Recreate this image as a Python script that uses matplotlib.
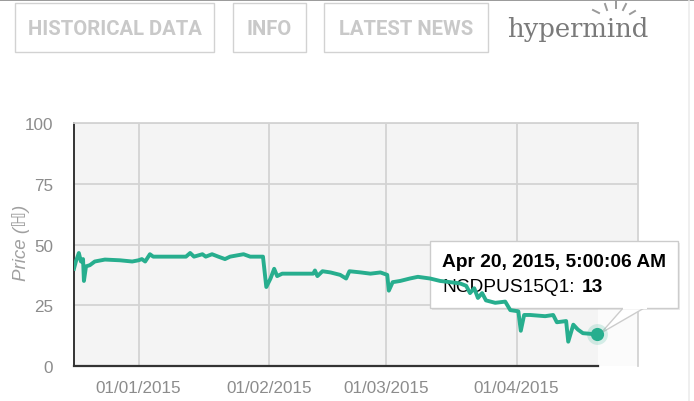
import numpy as np
import pandas as pd
import matplotlib
matplotlib.use("Agg")
import matplotlib.pyplot as plt
import matplotlib.dates as mdates
from matplotlib.patches import Rectangle, Polygon

# price history of NCDPUS15Q1
dates = ["2014-12-16 15:00", "2014-12-17 02:00", "2014-12-17 19:00", "2014-12-18 07:00",
         "2014-12-18 19:00", "2014-12-19 00:00", "2014-12-19 12:00", "2014-12-20 10:00",
         "2014-12-21 14:00", "2014-12-24 00:00", "2014-12-27 14:00", "2014-12-30 12:00",
         "2015-01-01 00:00", "2015-01-01 19:00", "2015-01-02 14:00", "2015-01-03 17:00",
         "2015-01-04 12:00", "2015-01-12 07:00", "2015-01-13 07:00", "2015-01-14 05:00",
         "2015-01-16 05:00", "2015-01-17 00:00", "2015-01-18 12:00", "2015-01-20 00:00",
         "2015-01-21 14:00", "2015-01-22 19:00", "2015-01-26 00:00", "2015-01-27 14:00",
         "2015-01-30 15:00", "2015-01-31 10:00", "2015-02-01 10:00", "2015-02-02 07:00",
         "2015-02-03 00:00", "2015-02-04 05:00", "2015-02-11 14:00", "2015-02-12 00:00",
         "2015-02-12 14:00", "2015-02-13 19:00", "2015-02-15 17:00", "2015-02-18 00:00",
         "2015-02-19 10:00", "2015-02-20 05:00", "2015-02-22 22:00", "2015-02-25 05:00",
         "2015-02-27 14:00", "2015-03-01 05:00", "2015-03-01 14:00", "2015-03-02 12:00",
         "2015-03-04 07:00", "2015-03-06 14:00", "2015-03-08 12:00", "2015-03-11 10:00",
         "2015-03-13 19:00", "2015-03-16 05:00", "2015-03-18 12:00", "2015-03-20 00:00",
         "2015-03-20 22:00", "2015-03-21 22:00", "2015-03-22 19:00", "2015-03-23 19:00",
         "2015-03-24 17:00", "2015-03-26 22:00", "2015-03-29 07:00", "2015-03-30 12:00",
         "2015-04-01 10:00", "2015-04-02 00:00", "2015-04-02 19:00", "2015-04-04 05:00",
         "2015-04-07 19:00", "2015-04-09 17:00", "2015-04-10 14:00", "2015-04-12 19:00",
         "2015-04-13 07:00", "2015-04-14 12:00", "2015-04-15 14:00", "2015-04-16 19:00",
         "2015-04-20 05:00"]
prices = [40, 43, 46.5, 43,
          44, 35, 41, 41.5,
          43, 43.8, 43.5, 43,
          43.5, 44, 43, 46,
          45, 45, 46.5, 45,
          46, 45, 46, 45,
          44, 45, 46, 45,
          45, 32.5, 36, 40,
          37, 38, 38, 39.3,
          37, 39, 38.5, 37.5,
          36, 39, 38.5, 38,
          38.5, 37.5, 31, 34.5,
          35, 36, 36.7, 36,
          35, 34.5, 34, 33,
          30, 32, 28, 30,
          27, 26, 26.5, 23,
          22.5, 14.5, 21, 21,
          20.5, 21, 18, 18.5,
          10, 17, 15, 13.5,
          13]
x_ticks = ["2015-01-01", "2015-02-01", "2015-03-01", "2015-04-01"]
y_ticks = [0, 25, 50, 75, 100]
buttons = ["HISTORICAL DATA", "INFO", "LATEST NEWS"]
tip_date = "Apr 20, 2015, 5:00:06 AM"
tip_name = "NCDPUS15Q1"
tip_value = prices[-1]

W, H = 694, 402
teal = "#27ae8e"
label_grey = "#8c8c8c"

plt.rcParams['font.family'] = ['Liberation Sans', 'DejaVu Sans']

fig = plt.figure(figsize=(W / 100, H / 100), dpi=100)
fig.patch.set_facecolor("white")


def fx(x):
    return x / W


def fy(y):
    return 1 - y / H


# header bar
fig.add_artist(plt.Line2D([0, 1], [fy(0.8), fy(0.8)], color="#9a9a9a", lw=1.4))
fig.add_artist(plt.Line2D([fx(689), fx(689)], [0, fy(2)], color="#ececec", lw=1.2))
boxes = [(15, 214), (233, 306), (324, 488)]
for name, (x0, x1) in zip(buttons, boxes):
    fig.add_artist(Rectangle((fx(x0), fy(53)), fx(x1 - x0), (53 - 4) / H,
                             transform=fig.transFigure, fill=False,
                             edgecolor="#d2d2d2", lw=1.0))
    fig.text(fx((x0 + x1) / 2), fy(29.5), name, ha="center", va="center",
             fontsize=14.6, fontweight="bold", color="#c9c9c9", family="Roboto")
fig.text(fx(507), fy(37), "hypermind", ha="left", va="baseline", fontsize=18.6,
         color="#7a7a7a", family="DejaVu Serif")
rays = [((593, 11), (599, 14)), ((605, 5), (607, 11)), ((616, 2), (616, 9)),
        ((626, 5), (623, 11)), ((635, 12), (630, 15))]
for (a, b) in rays:
    fig.add_artist(plt.Line2D([fx(a[0]), fx(b[0])], [fy(a[1]), fy(b[1])],
                              color="#9a9a9a", lw=1.4))

# chart
left, right, top, bottom = 74, 638, 124, 367
ax = fig.add_axes([fx(left), fy(bottom), fx(right - left), (bottom - top) / H])
ax.set_facecolor("#f4f4f4")

t = pd.to_datetime(dates)
ax.plot(t, prices, color=teal, lw=2.8, solid_joinstyle="round", zorder=6)
ax.plot(t[-1], prices[-1], "o", ms=15, color=teal, alpha=0.18, mec="none", zorder=6)
ax.plot(t[-1], prices[-1], "o", ms=9.5, color=teal, mec="none", zorder=7)

x0 = pd.Timestamp("2015-01-01") - pd.Timedelta(days=15.36)
x1 = pd.Timestamp("2015-01-01") + pd.Timedelta(days=118.9)
ax.set_xlim(x0, x1)
ax.set_ylim(0, 100)
ax.set_xticks(pd.to_datetime(x_ticks))
ax.xaxis.set_major_formatter(mdates.DateFormatter("%d/%m/%Y"))
ax.set_yticks(y_ticks)
ax.grid(True, color="#d3d3d3", lw=1.3)
ax.set_axisbelow(True)
ax.tick_params(length=0, labelsize=12.3, labelcolor=label_grey)
ax.tick_params(axis="x", pad=10)
ax.tick_params(axis="y", pad=15)
for s in ("top", "right"):
    ax.spines[s].set_color("#d3d3d3")
    ax.spines[s].set_linewidth(1.3)
ax.spines["bottom"].set_visible(False)
ax.spines["left"].set_color("#333333")
ax.spines["left"].set_linewidth(1.4)
end_frac = (598 - left) / (right - left)
ax.plot([0, end_frac], [0, 0], transform=ax.transAxes, color="#333333",
        lw=1.6, clip_on=False, zorder=8)
ax.add_patch(Rectangle((end_frac, 0), 1 - end_frac, 0.26, transform=ax.transAxes,
                       facecolor="#fbfbfb", edgecolor="none", zorder=1))

fig.text(fx(21), fy(243), "Price (\u210d)", rotation=90, ha="center", va="center",
         fontsize=13.5, style="italic", color="#a0a0a0")

# tooltip (drawn under the line, as in the original)
tr = fig.transFigure
shadow = Rectangle((fx(432), fy(311)), fx(248), 67 / H, transform=tr,
                   facecolor="#000000", alpha=0.08, edgecolor="none",
                   clip_on=False, zorder=3)
ax.add_patch(shadow)
pointer = Polygon([(fx(624), fy(308)), (fx(646), fy(308)), (fx(601), fy(334))],
                  closed=True, transform=tr, facecolor="white", edgecolor="#cccccc",
                  lw=1.0, clip_on=False, zorder=3.5)
ax.add_patch(pointer)
box = Rectangle((fx(430), fy(309)), fx(248), 67 / H, transform=tr,
                facecolor="white", edgecolor="#cccccc", lw=1.0,
                clip_on=False, zorder=3.6)
ax.add_patch(box)
ax.add_patch(Rectangle((fx(623), fy(310)), fx(24), 3 / H, transform=tr,
                       facecolor="white", edgecolor="none", clip_on=False, zorder=3.7))
ax.text(fx(442), fy(263), tip_date, transform=tr, ha="left", va="center",
        fontsize=13.8, fontweight="bold", color="black", zorder=4)
ax.text(fx(442), fy(288), tip_name + ":", transform=tr, ha="left", va="center",
        fontsize=13.8, color="black", zorder=4)
ax.text(fx(582), fy(288), str(tip_value), transform=tr, ha="left", va="center",
        fontsize=13.8, fontweight="bold", color="black", zorder=4)

fig.savefig("out.png", dpi=100)
